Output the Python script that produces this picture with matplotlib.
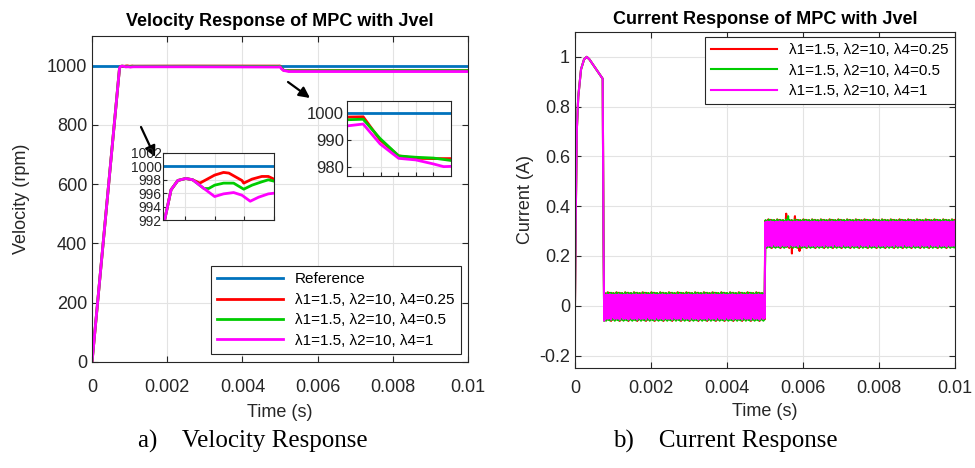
import numpy as np
import matplotlib.pyplot as plt

plt.rcParams['font.family'] = ['Liberation Sans', 'DejaVu Sans']
NARROW = ['Liberation Sans Narrow', 'Liberation Sans', 'DejaVu Sans']

labels = ['λ1=1.5, λ2=10, λ4=0.25', 'λ1=1.5, λ2=10, λ4=0.5', 'λ1=1.5, λ2=10, λ4=1']
colors = ['#ff0000', '#00cc00', '#ff00ff']
ref_color = '#0072bd'

# velocity (rpm) -- breakpoints per weighting
ref_t = [0, 0.01]
ref_v = [1000, 1000]

vel_t_r = [0, 0.000731, 0.000753, 0.000776, 0.000803, 0.000826, 0.00085, 0.0009, 0.00093, 0.000948,
           0.000992, 0.000998, 0.001026, 0.001059, 0.001081, 0.0011, 0.0025, 0.004954, 0.005, 0.005048,
           0.005101, 0.00515, 0.0052, 0.00525, 0.007, 0.01]
vel_r = [0, 991.9, 996.5, 997.9, 998.2, 998.0, 997.5, 998.7, 999.1, 999.0,
         997.9, 997.5, 998.1, 998.5, 998.5, 998.1, 998.5, 998.5, 998.6, 990.0,
         984.0, 983.1, 983.0, 983.0, 983.0, 983.0]

vel_t_g = [0, 0.000731, 0.000753, 0.000776, 0.000803, 0.000826, 0.000864, 0.00088, 0.0009, 0.00093,
           0.000964, 0.000998, 0.001026, 0.001059, 0.001081, 0.0011, 0.0025, 0.004954, 0.005, 0.005048,
           0.005101, 0.00515, 0.0052, 0.00525, 0.007, 0.01]
vel_g = [0, 991.9, 996.5, 997.9, 998.2, 998.0, 996.7, 996.7, 997.2, 997.5,
         997.5, 996.6, 997.2, 997.7, 998.0, 997.8, 997.8, 997.5, 997.7, 990.5,
         984.0, 983.5, 983.2, 982.3, 983.0, 983.0]

vel_t_m = [0, 0.000731, 0.000753, 0.000776, 0.000803, 0.000826, 0.000864, 0.0009, 0.00093, 0.000964,
           0.000992, 0.00102, 0.001048, 0.001081, 0.0011, 0.0025, 0.004954, 0.005, 0.005048, 0.005101,
           0.00515, 0.0052, 0.005229, 0.00525, 0.007, 0.01]
vel_m = [0, 991.9, 996.5, 997.9, 998.2, 998.0, 996.7, 995.5, 995.9, 996.1,
         995.7, 994.8, 995.4, 995.9, 996.0, 996.0, 995.2, 995.9, 988.5, 983.1,
         982.5, 981.0, 980.0, 980.1, 980.0, 980.0]

vel_series = [(vel_t_r, vel_r), (vel_t_g, vel_g), (vel_t_m, vel_m)]

# current (A): start-up transient, then switching ripple on two load levels
cur_t_head = [0, 0.00002, 0.00005, 0.000087, 0.00016, 0.00024, 0.00031, 0.00038, 0.00073, 0.00075, 0.00077]
cur_head = [0, 0.35, 0.71, 0.84, 0.95, 0.99, 1.0, 0.99, 0.912, 0.3, -0.06]
band_t = [(0.00078, 0.005), (0.00501, 0.01)]
band_level = [-0.003, 0.29]
ripple_r = [0.052, -0.048, 0.038, -0.055, 0.05, -0.041, 0.044, -0.052, 0.057, -0.047, 0.035,
            -0.053, 0.048, -0.036, 0.055, -0.05, 0.041, -0.058, 0.049, -0.044, 0.031, -0.051, 0.054]
ripple_g = [-0.05, 0.054, -0.039, 0.05, -0.057, 0.046, -0.05, 0.033, -0.048, 0.056, -0.053, 0.042,
            -0.045, 0.051, -0.056, 0.037, -0.049, 0.055, -0.041, 0.047, -0.054, 0.044, -0.038]
ripple_m = [0.046, -0.046, 0.032, -0.05, 0.045, -0.038, 0.048, -0.047, 0.029, -0.049, 0.046, -0.045,
            0.041, -0.035, 0.049, -0.048, 0.036, -0.052, 0.044, -0.041, 0.047, -0.033, 0.043]
spike_t_r = [0.00555, 0.0057, 0.00578, 0.0059]
spike_r = [0.37, 0.21, 0.36, 0.22]
spike_t_g = [0.00503, 0.0056]
spike_g = [0.25, 0.36]
ripples = [(ripple_r, spike_t_r, spike_r), (ripple_g, spike_t_g, spike_g), (ripple_m, [], [])]
dt = 1e-5


def current_trace(ripple, spike_t, spike_v):
    ts = list(cur_t_head)
    vs = list(cur_head)
    for (t0, t1), lev in zip(band_t, band_level):
        tb = np.arange(t0, t1, dt)
        vb = lev + np.resize(ripple, len(tb))
        ts += list(tb)
        vs += list(vb)
    ts = np.array(ts)
    vs = np.array(vs)
    for st, sv in zip(spike_t, spike_v):
        vs[np.searchsorted(ts, st)] = sv
    return ts, vs


def matlab_style(ax, fs=12):
    ax.tick_params(direction='in', top=True, right=True, labelsize=fs, colors='#262626', length=4)
    ax.tick_params(axis='x', pad=12)
    for lab in ax.get_xticklabels() + ax.get_yticklabels():
        lab.set_family(NARROW)
    ax.grid(True, color='#e3e3e3', lw=0.8)
    ax.set_axisbelow(True)
    for sp in ax.spines.values():
        sp.set_color('#262626')
        sp.set_linewidth(0.8)


def legend(ax, **kw):
    leg = ax.legend(fontsize=11, fancybox=False, edgecolor='#262626', framealpha=1,
                    handlelength=4.3, labelspacing=0.42, borderaxespad=0, **kw)
    leg.get_frame().set_linewidth(0.8)
    return leg


fig = plt.figure(figsize=(9.75, 4.68), dpi=100)

# ---- velocity
ax1 = fig.add_axes([0.0944, 0.2265, 0.3856, 0.6966])
ax1.plot(ref_t, ref_v, color=ref_color, lw=2, label='Reference')
for (t, v), c, lab in zip(vel_series, colors, labels):
    ax1.plot(t, v, color=c, lw=2, label=lab)
ax1.set_xlim(0, 0.01)
ax1.set_ylim(0, 1100)
ax1.set_xticks([0, 0.002, 0.004, 0.006, 0.008, 0.01])
ax1.set_xticklabels(['0', '0.002', '0.004', '0.006', '0.008', '0.01'])
ax1.set_yticks(range(0, 1001, 200))
matlab_style(ax1, fs=13)
ax1.set_xlabel('Time (s)', fontsize=13, color='#262626', labelpad=6)
ax1.set_ylabel('Velocity (rpm)', fontsize=13, color='#262626', labelpad=12)
ax1.set_title('Velocity Response of MPC with Jvel', fontsize=13, fontweight='bold', pad=7)
legend(ax1, loc='lower right', bbox_to_anchor=(0.981, 0.025))

# zoom on the end of the ramp
in1 = fig.add_axes([0.1672, 0.5299, 0.1138, 0.1432])
in1.plot(ref_t, ref_v, color=ref_color, lw=2)
for (t, v), c in zip(vel_series, colors):
    in1.plot(t, v, color=c, lw=2)
in1.set_xlim(0.000726, 0.0011)
in1.set_ylim(992, 1002)
in1.set_xticks([0.0008, 0.0009, 0.001, 0.0011])
in1.set_xticklabels([])
in1.set_yticks(range(992, 1003, 2))
matlab_style(in1, fs=10)
in1.tick_params(top=False, right=False, length=3, pad=1)

# zoom on the load step
in2 = fig.add_axes([0.3559, 0.6239, 0.1067, 0.1603])
in2.plot(ref_t, ref_v, color=ref_color, lw=2)
for (t, v), c in zip(vel_series, colors):
    in2.plot(t, v, color=c, lw=2)
in2.set_xlim(0.004954, 0.00525)
in2.set_ylim(976.5, 1004.5)
in2.set_xticks([0.005, 0.00505, 0.0051, 0.00515, 0.0052])
in2.set_xticklabels([])
in2.set_yticks([980, 990, 1000])
matlab_style(in2, fs=12)
in2.tick_params(top=False, right=False, length=3, pad=2)

arrow = dict(arrowstyle='-|>', color='k', lw=1.6, mutation_scale=16, shrinkA=0, shrinkB=0)
ax1.annotate('', xy=(155, 311), xytext=(141, 341), xycoords='figure pixels', arrowprops=arrow)
ax1.annotate('', xy=(310, 370), xytext=(288, 386), xycoords='figure pixels', arrowprops=arrow)

# ---- current
ax2 = fig.add_axes([0.5897, 0.2137, 0.3897, 0.718])
for (rip, st, sv), c, lab in zip(ripples, colors, labels):
    t, v = current_trace(rip, st, sv)
    ax2.plot(t, v, color=c, lw=1.5, label=lab)
ax2.set_xlim(0, 0.01)
ax2.set_ylim(-0.25, 1.1)
ax2.set_xticks([0, 0.002, 0.004, 0.006, 0.008, 0.01])
ax2.set_xticklabels(['0', '0.002', '0.004', '0.006', '0.008', '0.01'])
ax2.set_yticks([-0.2, 0, 0.2, 0.4, 0.6, 0.8, 1])
ax2.set_yticklabels(['-0.2', '0', '0.2', '0.4', '0.6', '0.8', '1'])
matlab_style(ax2, fs=13)
ax2.tick_params(axis='x', pad=9)
ax2.set_xlabel('Time (s)', fontsize=13, color='#262626', labelpad=4)
ax2.set_ylabel('Current (A)', fontsize=13, color='#262626')
ax2.set_title('Current Response of MPC with Jvel', fontsize=13, fontweight='bold', pad=6)
legend(ax2, loc='upper right', bbox_to_anchor=(1.0, 0.985))

fig.text(253 / 975, 1 - 441 / 468, 'a)    Velocity Response', ha='center', va='center',
         fontsize=18, family='Liberation Serif')
fig.text(725 / 975, 1 - 441 / 468, 'b)    Current Response', ha='center', va='center',
         fontsize=18, family='Liberation Serif')

fig.savefig('out.png', dpi=100)
